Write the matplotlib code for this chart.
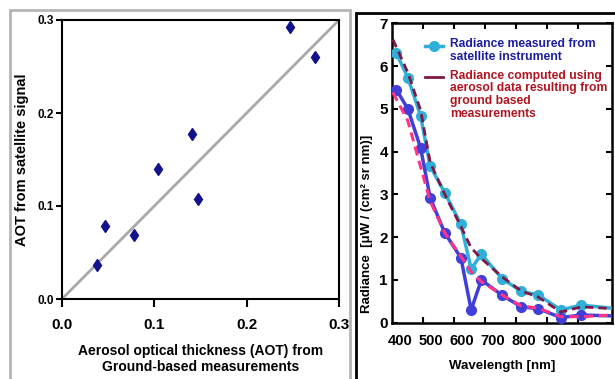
import matplotlib
matplotlib.use("Agg")
import matplotlib.pyplot as plt
from matplotlib.patches import Rectangle
from matplotlib.lines import Line2D

plt.rcParams['font.family'] = ['Liberation Sans', 'DejaVu Sans']
plt.rcParams['font.weight'] = 'bold'

# ---- left panel data: AOT comparison ----
aot_ground = [0.038, 0.047, 0.078, 0.104, 0.141, 0.147, 0.247, 0.274]
aot_satellite = [0.037, 0.079, 0.069, 0.140, 0.177, 0.107, 0.293, 0.260]
aot_ticks = [0.0, 0.1, 0.2, 0.3]
aot_ticklabels = ["0.0", "0.1", "0.2", "0.3"]

# ---- right panel data: radiance spectra ----
wl_measured = [389, 426, 467, 498, 545, 597, 630, 663, 730, 792, 846, 919, 985, 1083]
wl_computed = [378, 426, 467, 498, 545, 597, 630, 663, 730, 792, 846, 919, 985, 1083]
rad_meas_high = [6.30, 5.73, 4.84, 3.66, 3.04, 2.30, 1.26, 1.60, 1.03, 0.73, 0.65, 0.30, 0.41, 0.34]
rad_meas_low = [5.45, 5.00, 4.09, 2.92, 2.10, 1.52, 0.30, 1.00, 0.64, 0.37, 0.33, 0.12, 0.18, 0.16]
rad_comp_high = [6.62, 5.85, 4.97, 3.75, 3.00, 2.25, 1.75, 1.50, 1.07, 0.74, 0.60, 0.25, 0.37, 0.33]
rad_comp_low = [5.38, 4.72, 3.65, 2.84, 2.10, 1.55, 1.19, 0.96, 0.65, 0.39, 0.34, 0.14, 0.14, 0.18]
wl_tick_marks = [475, 575, 675, 775, 875, 975]
wl_label_pos = [400, 500, 600, 700, 800, 900, 1000]
wl_labels = ["400", "500", "600", "700", "800", "900", "1000"]
rad_ticks = [0, 1, 2, 3, 4, 5, 6, 7]
legend_meas = "Radiance measured from\nsatellite instrument"
legend_comp = "Radiance computed using\naerosol data resulting from\nground based\nmeasurements"

W, H = 615, 379
fig = plt.figure(figsize=(W / 100, H / 100), dpi=100)

# outer frames
fig.patches.append(Rectangle((10 / W, -0.05), 340 / W, (H - 10) / H + 0.05,
                             transform=fig.transFigure, fill=False,
                             edgecolor="#b5b5b5", lw=2.0))
fig.patches.append(Rectangle((356 / W, -0.05), 0.5, (H - 13) / H + 0.05,
                             transform=fig.transFigure, fill=False,
                             edgecolor="black", lw=2.0))

# ---- left axes ----
ax1 = fig.add_axes([62 / W, 80 / H, 277 / W, 279 / H])
ax1.plot([0, 0.3], [0, 0.3], color="#a8a8a8", lw=2.0, zorder=1)
ax1.plot(aot_ground, aot_satellite, linestyle="none", marker="d", markersize=6,
         color="#12128c", zorder=3)
ax1.set_xlim(0, 0.3)
ax1.set_ylim(0, 0.3)
ax1.set_xticks(aot_ticks)
ax1.set_xticklabels(aot_ticklabels, fontsize=11, fontweight="bold")
ax1.set_yticks(aot_ticks)
ax1.set_yticklabels(aot_ticklabels, fontsize=8.5, fontweight="bold")
ax1.tick_params(axis="x", direction="out", length=6, width=1.5, pad=8)
ax1.tick_params(axis="y", direction="out", length=4, width=1.5, pad=2)
for s in ax1.spines.values():
    s.set_linewidth(1.5)
ax1.set_xlabel("Aerosol optical thickness (AOT) from\nGround-based measurements",
               fontsize=10, fontweight="bold", linespacing=1.2, labelpad=8)
ax1.set_ylabel("AOT from satellite signal", fontsize=10.5, fontweight="bold", labelpad=6)

# ---- right axes ----
ax2 = fig.add_axes([392 / W, 56.3 / H, 219.7 / W, 299.4 / H])
ax2.plot(wl_computed, rad_comp_high, color="#7f1848", lw=2.0,
         linestyle=(0, (3, 1.8)), zorder=4)
ax2.plot(wl_measured, rad_meas_high, color="#30b0d8", lw=2.5, marker="o",
         markersize=7, markevery=slice(0, -1), zorder=3)
ax2.plot(wl_measured, rad_meas_low, color="#4040d8", lw=2.5, marker="o",
         markersize=7, markevery=slice(0, -1), zorder=3)
ax2.plot(wl_computed, rad_comp_low, color="#ff3388", lw=2.2,
         linestyle=(0, (3, 1.8)), zorder=4)
ax2.set_xlim(375, 1083)
ax2.set_ylim(0, 7)
ax2.set_yticks(rad_ticks)
ax2.set_yticklabels([str(v) for v in rad_ticks], fontsize=11, fontweight="bold")
ax2.set_xticks(wl_tick_marks)
ax2.set_xticklabels([])
ax2.set_xticks(wl_label_pos, minor=True)
ax2.set_xticklabels(wl_labels, minor=True, fontsize=10.5, fontweight="bold")
ax2.tick_params(axis="x", which="major", direction="in", length=4, width=1.5,
                top=True, bottom=True)
ax2.tick_params(axis="x", which="minor", length=0, pad=8)
ax2.tick_params(axis="y", direction="in", length=4, width=1.5, right=True, pad=3)
for s in ax2.spines.values():
    s.set_linewidth(1.8)
ax2.set_xlabel("Wavelength [nm]", fontsize=9.5, fontweight="bold", labelpad=9)
ax2.set_ylabel("Radiance  [\u03bcW / (cm\u00b2 sr nm)]", fontsize=9.5,
               fontweight="bold")
ax2.yaxis.set_label_coords(-0.085, 0.33)

# manual legend (handles aligned with first text line, as in the reference)
def px2ax(px, py):
    return ((px - 392) / 219.7, (322.7 - py) / 299.4)

x0, y0 = px2ax(425, 45.5)
x1, _ = px2ax(443, 45.5)
ax2.add_line(Line2D([x0, (x0 + x1) / 2, x1], [y0, y0, y0], transform=ax2.transAxes,
                    color="#30b0d8", lw=2.5, marker="o", markersize=7,
                    markevery=[1], clip_on=False))
ym = px2ax(0, 76.5)[1]
ax2.add_line(Line2D([x0, x1], [ym, ym], transform=ax2.transAxes, color="#7f1848",
                    lw=2.0, clip_on=False))
tx, ty1 = px2ax(450, 38)
_, ty2 = px2ax(450, 69.5)
ax2.text(tx, ty1, legend_meas, transform=ax2.transAxes, fontsize=8.7,
         fontweight="bold", color="#1c1ca0", va="top", ha="left", linespacing=1.1)
ax2.text(tx, ty2, legend_comp, transform=ax2.transAxes, fontsize=8.7,
         fontweight="bold", color="#b01420", va="top", ha="left", linespacing=1.1)

fig.savefig("out.png", dpi=100)
